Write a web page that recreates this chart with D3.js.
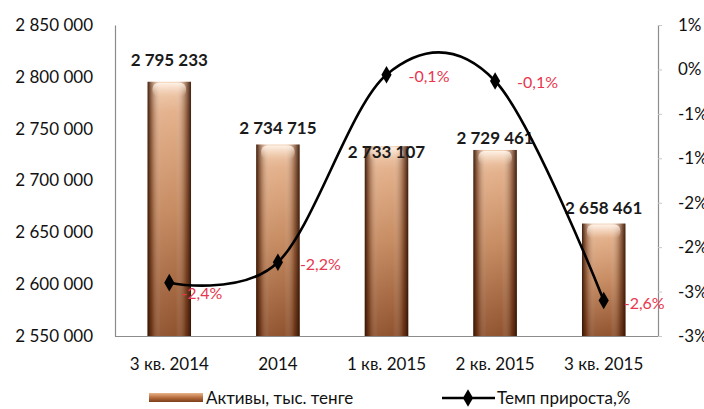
<!DOCTYPE html>
<html>
<head>
<meta charset="utf-8">
<script src="https://cdn.jsdelivr.net/npm/d3@7"></script>
<style>
  body { margin: 0; background: #fff; }
  svg { display: block; font-family: Lato, "Open Sans", sans-serif; }
</style>
</head>
<body>
<svg id="chart" width="704" height="409"></svg>
<script>
// data
var categories = ["3 кв. 2014", "2014", "1 кв. 2015", "2 кв. 2015", "3 кв. 2015"];
var assets = [2795233, 2734715, 2733107, 2729461, 2658461];
var growth = [-2.4, -2.17, -0.06, -0.13, -2.6];
var leftTicks = [2550000, 2600000, 2650000, 2700000, 2750000, 2800000, 2850000];
var rightTicks = [0.5, 0, -0.5, -1, -1.5, -2, -2.5, -3];
var seriesNames = ["Активы, тыс. тенге", "Темп прироста,%"];

// label nudges (the original labels were dragged by hand)
var barLabelDy = [-22, -17, 6, -12, -16];
var pointLabelDx = [12, 22, 22, 22, 20];
var pointLabelDy = [10, 2, 1, 1, 3];

var W = 704, H = 409;
var m = {top: 25, right: 46, bottom: 73, left: 115};

var svg = d3.select("#chart");
var ru = d3.formatLocale({decimal: ",", thousands: " ", grouping: [3], currency: ["", ""], minus: "-"});
var fmtNum = ru.format(",d");
var fmtPct = ru.format(".1f");

var x = d3.scaleBand().domain(categories)
    .range([m.left, W - m.right]).paddingInner(0.6).paddingOuter(0.3);
var y = d3.scaleLinear().domain([2550000, 2850000]).range([H - m.bottom, m.top]);
var y2 = d3.scaleLinear().domain([-3, 0.5]).range([H - m.bottom, m.top]);

// gradients for the copper bars
var defs = svg.append("defs");
var gv = defs.append("linearGradient").attr("id", "barV").attr("x1", 0).attr("y1", 0).attr("x2", 0).attr("y2", 1);
[["0%", "#f2cfb2"], ["12%", "#e2ad86"], ["50%", "#c4865a"], ["100%", "#8a4a24"]].forEach(function(s) {
    gv.append("stop").attr("offset", s[0]).attr("stop-color", s[1]);
});
var gh = defs.append("linearGradient").attr("id", "barH").attr("x1", 0).attr("y1", 0).attr("x2", 1).attr("y2", 0);
[["0%", "#2a0e02", 0.9], ["10%", "#4a1e08", 0.45], ["30%", "#ffffff", 0.08], ["65%", "#ffffff", 0.05], ["88%", "#4a1e08", 0.45], ["100%", "#2a0e02", 0.9]].forEach(function(s) {
    gh.append("stop").attr("offset", s[0]).attr("stop-color", s[1]).attr("stop-opacity", s[2]);
});
var gt = defs.append("linearGradient").attr("id", "barTop").attr("x1", 0).attr("y1", 0).attr("x2", 0).attr("y2", 1);
[["0%", "#fff6ee", 0.9], ["100%", "#f5d3b8", 0]].forEach(function(s) {
    gt.append("stop").attr("offset", s[0]).attr("stop-color", s[1]).attr("stop-opacity", s[2]);
});
var gl = defs.append("linearGradient").attr("id", "legV").attr("x1", 0).attr("y1", 0).attr("x2", 0).attr("y2", 1);
[["0%", "#e9b38a"], ["50%", "#b86f3f"], ["100%", "#7a3c18"]].forEach(function(s) {
    gl.append("stop").attr("offset", s[0]).attr("stop-color", s[1]);
});

// axes
var axisColor = "#8c8c8c";
var gLeft = svg.append("g").attr("transform", "translate(" + m.left + ",0)")
    .call(d3.axisLeft(y).tickValues(leftTicks).tickSize(0).tickPadding(22).tickFormat(fmtNum));
var gRight = svg.append("g").attr("transform", "translate(" + (W - m.right) + ",0)")
    .call(d3.axisRight(y2).tickValues(rightTicks).tickSize(4).tickPadding(16)
        .tickFormat(function(d) { return (d < 0 ? "-" : "") + Math.round(Math.abs(d)) + "%"; }));
var gBottom = svg.append("g").attr("transform", "translate(0," + (H - m.bottom) + ")")
    .call(d3.axisBottom(x).tickSize(0).tickPadding(22));
gBottom.select(".domain").attr("d", "M" + m.left + ",0.5H" + (W - m.right));

[gLeft, gRight, gBottom].forEach(function(g) {
    g.select(".domain").attr("stroke", axisColor).attr("stroke-width", 1.2);
    g.selectAll(".tick line").attr("stroke", "#c8c8c8");
    g.selectAll("text").attr("fill", "#111").style("font-size", "17px").style("font-family", "Lato, sans-serif");
});
gRight.selectAll("text").attr("text-anchor", "start");

// bars
var bw = x.bandwidth();
var bars = svg.append("g").selectAll("g").data(assets).enter().append("g");
bars.append("rect")
    .attr("x", function(d, i) { return x(categories[i]); })
    .attr("y", function(d) { return y(d); })
    .attr("width", bw)
    .attr("height", function(d) { return y(2550000) - y(d); })
    .attr("fill", "url(#barV)");
bars.append("rect")
    .attr("x", function(d, i) { return x(categories[i]); })
    .attr("y", function(d) { return y(d); })
    .attr("width", bw)
    .attr("height", function(d) { return y(2550000) - y(d); })
    .attr("fill", "url(#barH)");
bars.append("rect")
    .attr("x", function(d, i) { return x(categories[i]) + 5; })
    .attr("y", function(d) { return y(d) + 1; })
    .attr("width", bw - 10)
    .attr("height", 14)
    .attr("rx", 6)
    .attr("fill", "url(#barTop)");

// bar value labels
svg.append("g").selectAll("text").data(assets).enter().append("text")
    .attr("x", function(d, i) { return x(categories[i]) + bw / 2; })
    .attr("y", function(d, i) { return y(d) + barLabelDy[i] + 6; })
    .attr("text-anchor", "middle")
    .style("font-size", "17px").style("font-weight", "bold")
    .attr("fill", "#1a1a1a")
    .text(fmtNum);

// growth line
var px = function(i) { return x(categories[i]) + bw / 2; };
var line = d3.line()
    .x(function(d, i) { return px(i); })
    .y(function(d) { return y2(d); })
    .curve(d3.curveCardinal.tension(0));
svg.append("path").datum(growth)
    .attr("d", line)
    .attr("fill", "none").attr("stroke", "#000").attr("stroke-width", 2.6);

var diamond = d3.symbol().type(d3.symbolDiamond).size(90);
svg.append("g").selectAll("path").data(growth).enter().append("path")
    .attr("d", diamond)
    .attr("transform", function(d, i) { return "translate(" + px(i) + "," + y2(d) + ")"; })
    .attr("fill", "#000");

svg.append("g").selectAll("text").data(growth).enter().append("text")
    .attr("x", function(d, i) { return px(i) + pointLabelDx[i]; })
    .attr("y", function(d, i) { return y2(d) + pointLabelDy[i] + 6; })
    .style("font-size", "16px")
    .attr("fill", "#e8364e")
    .text(function(d) { return fmtPct(d) + "%"; });

// legend
var leg = svg.append("g").style("font-size", "17px");
leg.append("rect").attr("x", 149).attr("y", 393).attr("width", 54).attr("height", 9).attr("fill", "url(#legV)");
leg.append("text").attr("x", 206).attr("y", 404).attr("fill", "#111").text(seriesNames[0]);
leg.append("line").attr("x1", 442).attr("x2", 495).attr("y1", 398).attr("y2", 398)
    .attr("stroke", "#000").attr("stroke-width", 2.6);
leg.append("path").attr("d", diamond).attr("transform", "translate(468,398)").attr("fill", "#000");
leg.append("text").attr("x", 497).attr("y", 404).attr("fill", "#111").text(seriesNames[1]);
</script>
</body>
</html>
